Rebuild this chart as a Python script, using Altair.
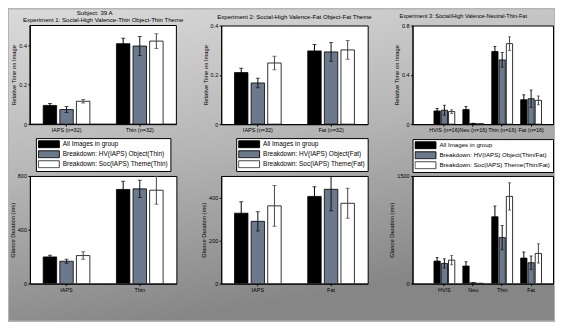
import altair as alt
import pandas as pd

FONT = "Liberation Sans"
BAR_COLORS = ["#000000", "#6c788c", "#ffffff"]
ERR_COLORS = ["#000000", "#111111", "#444444"]

series_e1 = ["All Images in group", "Breakdown: HV(IAPS) Object(Thin)", "Breakdown: Soc(IAPS) Theme(Thin)"]
series_e2 = ["All Images in group", "Breakdown: HV(IAPS) Object(Fat)", "Breakdown: Soc(IAPS) Theme(Fat)"]
series_e3 = ["All Images in group", "Breakdown: HV(IAPS) Object(Thin/Fat)", "Breakdown: Soc(IAPS) Theme(Thin/Fat)"]

cats_e1_top = ["IAPS (n=32)", "Thin (n=32)"]
cats_e2_top = ["IAPS (n=32)", "Fat (n=32)"]
cats_e3_top = ["HV/S (n=16)", "Neu (n=16)", "Thin (n=16)", "Fat (n=16)"]
cats_e1_bot = ["IAPS", "Thin"]
cats_e2_bot = ["IAPS", "Fat"]
cats_e3_bot = ["HV/S", "Neu", "Thin", "Fat"]

figure_title = "Subject: 39 A"
titles = [
    "Experiment 1: Social-High Valence-Thin Object-Thin Theme",
    "Experiment 2: Social-High Valence-Fat Object-Fat Theme",
    "Experiment 3: Social/High Valence-Neutral-Thin-Fat",
]

# relative time on image: [series][category]
rt_e1_mean = [[0.095, 0.408], [0.074, 0.396], [0.116, 0.421]]
rt_e1_err = [[0.010, 0.028], [0.015, 0.048], [0.009, 0.037]]
rt_e2_mean = [[0.209, 0.297], [0.167, 0.293], [0.248, 0.301]]
rt_e2_err = [[0.018, 0.026], [0.019, 0.038], [0.027, 0.038]]
rt_e3_mean = [[0.107, 0.118, 0.589, 0.198], [0.113, 0.005, 0.521, 0.206], [0.102, 0.003, 0.653, 0.193]]
rt_e3_err = [[0.020, 0.025, 0.040, 0.040], [0.040, 0.003, 0.060, 0.070], [0.015, 0.002, 0.055, 0.035]]

# glance duration (ms): [series][category]
gd_e1_mean = [[198, 700], [166, 704], [208, 694]]
gd_e1_err = [[12, 60], [15, 65], [28, 104]]
gd_e2_mean = [[327, 405], [289, 438], [361, 373]]
gd_e2_err = [[53, 45], [45, 100], [95, 70]]
gd_e3_mean = [[313, 244, 931, 355], [281, 10, 641, 290], [327, 3, 1215, 420]]
gd_e3_err = [[50, 60, 150, 85], [65, 5, 170, 95], [65, 3, 190, 135]]

W = 147      # width of the two-category panels
W3 = 141     # width of the four-category panels
H_TOP = 99
H_BOT = 108


def legend_for(x, y, fs=6.5):
    return alt.Legend(
        orient="none", legendX=x, legendY=y, title=None,
        fillColor="white", strokeColor="black", padding=2,
        symbolType="M-3,-1H3V1H-3Z", symbolSize=49, symbolOffset=7,
        symbolStrokeColor="black", symbolStrokeWidth=1, symbolOpacity=1,
        labelFont=FONT, labelFontSize=fs, labelColor="black",
        labelOffset=10, rowPadding=1, clipHeight=8.5, labelLimit=300, zindex=2,
    )


def panel(cats, series, means, errs, ymax, yticks, ytitle, width, height,
          title=None, legend=None, outer=0.0, align=0.5, inner_pad=0.19, inner_outer=0.8,
          cap=4, backdrop=False, title_fs=6.1, title_dx=0, title_anchor="middle"):
    rows = []
    for si, s in enumerate(series):
        for ci, c in enumerate(cats):
            m = means[si][ci]
            e = errs[si][ci]
            rows.append({"cat": c, "ser": s, "m": m, "lo": m - e, "hi": m + e})
    df = pd.DataFrame(rows)
    z = 1 if backdrop else 0
    x = alt.X("cat:N", sort=cats,
              scale=alt.Scale(domain=cats, paddingInner=0, paddingOuter=outer, align=align),
              axis=alt.Axis(title=None, labelAngle=0, labelFontSize=5.5, labelFont=FONT,
                            labelColor="black", tickSize=2, tickColor="black",
                            domainColor="black", labelPadding=1.5, labelOverlap=False,
                            labelBound=False, labelFlush=False, zindex=z))
    xo = alt.XOffset("ser:N", sort=series,
                     scale=alt.Scale(domain=series, paddingInner=inner_pad, paddingOuter=inner_outer))
    yax = alt.Axis(values=yticks, labelExpr="format(datum.value, '~g')", title=ytitle,
                   labelFontSize=5.5, labelFont=FONT, labelColor="black",
                   titleFont=FONT, titleFontSize=5.8, titleFontWeight="normal", titleColor="black",
                   titlePadding=2, tickSize=2, tickColor="black", domainColor="black",
                   labelPadding=1.5, grid=False, zindex=z)
    yscale = alt.Scale(domain=[0, ymax], nice=False, zero=True)
    base = alt.Chart(df)
    bars = base.mark_bar(stroke="black", strokeWidth=0.8, clip=True).encode(
        x=x, xOffset=xo,
        y=alt.Y("m:Q", scale=yscale, axis=yax),
        color=alt.Color("ser:N", sort=series,
                        scale=alt.Scale(domain=series, range=BAR_COLORS),
                        legend=legend),
    )
    rules = base.mark_rule(clip=True, strokeWidth=1).encode(
        x=x, xOffset=xo, y="lo:Q", y2="hi:Q",
        stroke=alt.Stroke("ser:N", scale=alt.Scale(domain=series, range=ERR_COLORS), legend=None),
    )
    caps_hi = base.mark_tick(clip=True, size=cap, thickness=1).encode(
        x=x, xOffset=xo, y="hi:Q",
        fill=alt.Fill("ser:N", scale=alt.Scale(domain=series, range=ERR_COLORS), legend=None),
    )
    caps_lo = base.mark_tick(clip=True, size=cap, thickness=1).encode(
        x=x, xOffset=xo, y="lo:Q",
        fill=alt.Fill("ser:N", scale=alt.Scale(domain=series, range=ERR_COLORS), legend=None),
    )
    layers = [bars, rules, caps_hi, caps_lo]
    if backdrop:
        # figure background (gradient) and the white plot area drawn over it;
        # the panel titles are drawn as text so that they stay next to the plot.
        one = alt.Chart(pd.DataFrame({"k": [0]}))
        grad = alt.Gradient(
            gradient="linear", x1=0, y1=0, x2=0.3, y2=1,
            stops=[alt.GradientStop(color="#dadada", offset=0),
                   alt.GradientStop(color="#b6b6b6", offset=0.5),
                   alt.GradientStop(color="#868686", offset=1)],
        )
        figure_bg = one.mark_rect(color=grad).encode(
            x=alt.value(-21), x2=alt.value(526), y=alt.value(-16), y2=alt.value(296))
        plot_bg = one.mark_rect(fill="white", stroke="black", strokeWidth=1).encode(
            x=alt.value(0), x2=alt.value(width), y=alt.value(0), y2=alt.value(height))
        sup = one.mark_text(text=figure_title, font=FONT, fontSize=6.1, color="black",
                            baseline="middle", align="center").encode(
            x=alt.value(65), y=alt.value(-13))
        ttl = one.mark_text(text=title, font=FONT, fontSize=title_fs, color="black",
                            baseline="middle", align="center").encode(
            x=alt.value(73.5), y=alt.value(-6))
        layers = [figure_bg, plot_bg] + layers + [sup, ttl]
    ch = alt.layer(*layers).properties(width=width, height=height)
    if title is not None and not backdrop:
        ch = ch.properties(title=alt.Title(title, font=FONT, fontSize=title_fs, fontWeight="normal",
                                           color="black", offset=3.5,
                                           anchor=title_anchor, dx=title_dx))
    return ch


p1 = panel(cats_e1_top, series_e1, rt_e1_mean, rt_e1_err, 0.5, [0, 0.1, 0.2, 0.3, 0.4, 0.5],
           "Relative Time on Image", W, H_TOP, title=titles[0], legend=legend_for(6, 113),
           backdrop=True)
p2 = panel(cats_e2_top, series_e2, rt_e2_mean, rt_e2_err, 0.4, [0, 0.1, 0.2, 0.3, 0.4],
           "Relative Time on Image", W, H_TOP, title=titles[1], legend=legend_for(15, 113))
p3 = panel(cats_e3_top, series_e3, rt_e3_mean, rt_e3_err, 0.8, [0, 0.2, 0.4, 0.6, 0.8],
           "Relative Time on Image", W3, H_TOP, title=titles[2], legend=legend_for(0, 114, 6.2),
           outer=0.43, align=0.7, inner_pad=0.14, inner_outer=0.555, cap=3,
           title_fs=5.6, title_anchor="start", title_dx=6)
p4 = panel(cats_e1_bot, series_e1, gd_e1_mean, gd_e1_err, 800, [0, 200, 400, 600, 800],
           "Glance Duration (ms)", W, H_BOT, legend=None)
p5 = panel(cats_e2_bot, series_e2, gd_e2_mean, gd_e2_err, 500, [0, 100, 200, 300, 400, 500],
           "Glance Duration (ms)", W, H_BOT, legend=None)
p6 = panel(cats_e3_bot, series_e3, gd_e3_mean, gd_e3_err, 1500, [0, 500, 1000, 1500],
           "Glance Duration (ms)", W3, H_BOT, legend=None,
           outer=0.43, align=0.7, inner_pad=0.14, inner_outer=0.555, cap=3)

res = dict(color="independent", x="independent", y="independent", xOffset="independent",
           stroke="independent", fill="independent")

chart = alt.concat(
    p1, p2, p3, p4, p5, p6, columns=3,
    spacing={"row": 52, "column": 45}, bounds="flush", align="each",
).resolve_scale(**res).resolve_legend(
    color="independent"
).properties(
    background="#b4b4b4",
    padding=0,
).configure_view(stroke="black", strokeWidth=1, fill="white")

chart.save("out.html", embed_options={"renderer": "svg", "actions": False})
